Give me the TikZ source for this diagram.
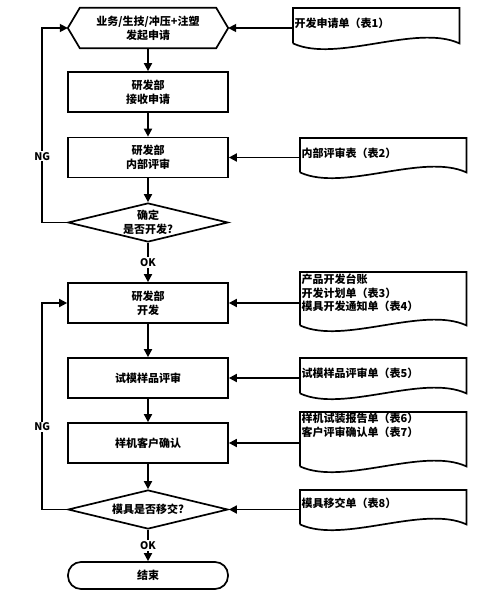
\documentclass[tikz,border=0pt]{standalone}
\usepackage{fontspec}
\setmainfont{Noto Sans CJK SC}
\usetikzlibrary{arrows.meta,shapes.geometric,calc}
\tikzset{
  every node/.style={font=\bfseries\fontsize{11}{14}\selectfont},
  edge/.style={line width=1.7pt},
  flow/.style={edge,-{Triangle[length=8pt,width=8pt]}},
  stepbox/.style={draw,edge,minimum width=160pt,minimum height=40pt,align=center,inner sep=0pt},
  hexbox/.style={minimum width=160pt,minimum height=40pt,align=center,inner sep=0pt},
  checkbox/.style={diamond,aspect=4.1,draw,edge,minimum width=160pt,minimum height=39pt,align=center,inner sep=0pt},
  endbox/.style={draw,edge,rounded corners=13pt,minimum width=160pt,minimum height=27pt,inner sep=0pt},
  formdoc/.style={anchor=north west,minimum width=166pt,inner sep=0pt},
  formtext/.style={anchor=west,align=left,inner sep=1.5pt,font=\bfseries\fontsize{11}{13.5}\selectfont},
  oklabel/.style={fill=white,inner sep=1pt,font=\bfseries\fontsize{10.5}{12}\selectfont},
  nglabel/.style={fill=white,inner sep=1pt,font=\bfseries\fontsize{10.5}{12}\selectfont}
}
\begin{document}
\begin{tikzpicture}[x=1pt,y=-1pt]
\useasboundingbox (0,0) rectangle (494,601);
\node[hexbox] (start) at (148,28) {业务/生技/冲压+注塑\\发起申请};
\draw[edge] (start.west) -- ([xshift=12pt]start.north west) -- ([xshift=-12pt]start.north east) -- (start.east) -- ([xshift=-12pt]start.south east) -- ([xshift=12pt]start.south west) -- cycle;
\node[stepbox] (recv) at (148,92) {研发部\\接收申请};
\node[stepbox] (review) at (148,157.5) {研发部\\内部评审};
\node[checkbox] (chk1) at (148,222.5) {确定\\是否开发?};
\node[stepbox] (dev) at (148,303) {研发部\\开发};
\node[stepbox] (trial) at (148,378) {试模样品评审};
\node[stepbox] (confirm) at (148,443) {样机客户确认};
\node[checkbox] (chk2) at (148,509.5) {模具是否移交?};
\node[endbox] (finish) at (148,575.5) {结束};
\node[formdoc,minimum height=35pt,label={[formtext,yshift=2.5pt]west:开发申请单（表1）}] (form1) at (293,8) {};
\node[formdoc,minimum height=34pt,label={[formtext,yshift=2pt]west:内部评审表（表2）}] (form2) at (300,138) {};
\node[formdoc,minimum height=53pt,label={[formtext,yshift=5.5pt]west:产品开发台账\\开发计划单（表3）\\模具开发通知单（表4）}] (form3) at (300,272) {};
\node[formdoc,minimum height=35pt,label={[formtext,yshift=2.5pt]west:试模样品评审单（表5）}] (form4) at (300,358) {};
\node[formdoc,minimum height=54pt,label={[formtext,yshift=14pt]west:样机试装报告单（表6）\\客户评审确认单（表7）}] (form5) at (300,412) {};
\node[formdoc,minimum height=34pt,label={[formtext,yshift=4pt]west:模具移交单（表8）}] (form6) at (300,490) {};
\foreach \f in {form1,form2,form3,form4,form5,form6}
  \draw[edge] (\f.south west) -- (\f.north west) -- (\f.north east) -- (\f.south east) .. controls ($(\f.south)+(40,-20)$) and ($(\f.south)+(-40,20)$) .. (\f.south west);
\draw[flow] (start) -- (recv);
\draw[flow] (recv) -- (review);
\draw[flow] (review) -- (chk1);
\draw[flow] (chk1) -- node[oklabel]{OK} (dev);
\draw[flow] (dev) -- (trial);
\draw[flow] (trial) -- (confirm);
\draw[flow] (confirm) -- (chk2);
\draw[flow] (chk2) -- node[oklabel]{OK} (finish);
\draw[flow] (chk1.west) -- ++(-25,0) |- node[pos=0.17,nglabel]{NG} (start.west);
\draw[flow] (chk2.west) -- ++(-25,0) |- node[pos=0.2,nglabel]{NG} (dev.west);
\draw[flow] (form1.west |- start.east) -- (start.east);
\draw[flow] (form2.west |- review.east) -- (review.east);
\draw[flow] (form3.west |- dev.east) -- (dev.east);
\draw[flow] (form4.west |- trial.east) -- (trial.east);
\draw[flow] (form5.west |- confirm.east) -- (confirm.east);
\draw[flow] (form6.west |- chk2.east) -- (chk2.east);
\end{tikzpicture}
\end{document}
